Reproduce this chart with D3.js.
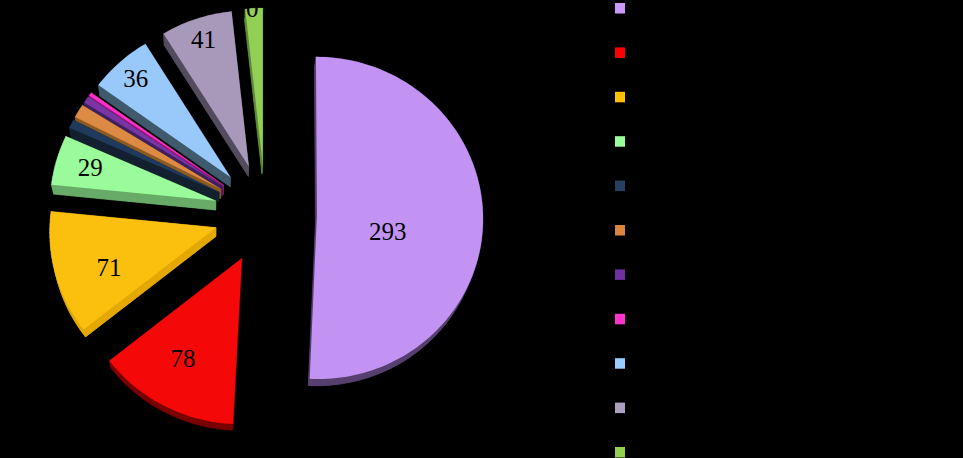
<!DOCTYPE html>
<html><head><meta charset="utf-8">
<script src="https://cdn.jsdelivr.net/npm/d3@7"></script>
<style>html,body{margin:0;padding:0;background:#000;overflow:hidden}svg{display:block}</style>
</head><body><svg id="c" width="963" height="458"></svg>
<script>
const values = [293, 78, 71, 29, 5, 8, 4, 2, 36, 41, 10];
const topColors = ["#c293f3","#f50808","#fbc00e","#99fb99","#1f3a5c","#dd8a45","#7a35a5","#ff2fc8","#99c8fb","#a899bb","#92cf55"];
const sideColors = ["#57406f","#7a0000","#e3a900","#68ab68","#13202f","#8a5a22","#3f1f60","#a0187f","#3f5a6c","#534c5e","#5f8a38"];
const legendColors = ["#cc99ff","#ff0000","#ffc000","#99ff99","#254061","#d9853f","#7030a0","#ff33cc","#99ccff","#ab9fc0","#92d050"];
const labelFractions = [0.437, 0.70, 0.685, 0.79, 0, 0, 0, 0, 0.855, 0.86, 1.0];
const labelTurns = [12.3, 2.5, -4.6, 0.4, 0, 0, 0, 0, 0, 0, -2.8];
const labelled = [true, true, true, true, false, false, false, false, true, true, true];

const svg = d3.select("#c");
const deg = Math.PI/180;
const cx = 265.5, cy = 213.5, rx = 166, ry = 161, tilt = 0.02, explode = 0.31;
const vanish = [210, 838], depth = 0.0145;
const project = (X, Y) => { const s = 1/(1 - tilt*Y); return [cx + rx*X*s, cy + ry*Y*s]; };
const drop = p => [p[0] + depth*(vanish[0]-p[0]), p[1] + depth*(vanish[1]-p[1])];
const line = d3.line();

const arcs = d3.pie().sort(null).startAngle(0).endAngle(2*Math.PI)(values);
const unit = a => [Math.sin(a), -Math.cos(a)];

function outline(d) {
  const mid = (d.startAngle + d.endAngle)/2, o = unit(mid).map(v => v*explode);
  const steps = Math.max(2, Math.ceil((d.endAngle - d.startAngle)/(1.5*deg)));
  const ring = d3.range(steps + 1).map(i => {
    const u = unit(d.startAngle + (d.endAngle - d.startAngle)*i/steps);
    return project(o[0] + u[0], o[1] + u[1]);
  });
  return [project(o[0], o[1]), ...ring];
}

const order = arcs.map((d,i) => i).sort((a,b) => b - a).filter(i => i !== 0).concat([0]);
const g = svg.append("g");
order.forEach(i => {
  const pts = outline(arcs[i]);
  const walls = g.append("g").attr("fill", sideColors[i]).attr("stroke", sideColors[i]).attr("stroke-width", 0.4);
  walls.append("path").attr("d", line(pts.map(drop)) + "Z");
  pts.forEach((p, k) => {
    const q = pts[(k + 1) % pts.length];
    walls.append("path").attr("d", line([p, q, drop(q), drop(p)]) + "Z");
  });
  g.append("path").attr("d", line(pts) + "Z").attr("fill", topColors[i]);
});

arcs.forEach((d,i) => {
  if (!labelled[i]) return;
  const mid = (d.startAngle + d.endAngle)/2, o = unit(mid).map(v => v*explode);
  const u = unit(mid + labelTurns[i]*deg), f = labelFractions[i];
  const [x, y] = project(o[0] + u[0]*f, o[1] + u[1]*f);
  g.append("text").attr("x", x).attr("y", y).attr("text-anchor", "middle").attr("dy", "0.34em")
    .attr("font-family", "'Liberation Serif', serif").attr("font-size", 25).attr("fill", "#000")
    .text(d.value);
});

const legendY = d3.scalePoint().domain(d3.range(values.length)).range([3, 447]);
svg.append("g").selectAll("rect").data(legendColors).join("rect")
  .attr("x", 615).attr("y", (d,i) => legendY(i)).attr("width", 10).attr("height", 10.5).attr("fill", d => d);
</script></body></html>
